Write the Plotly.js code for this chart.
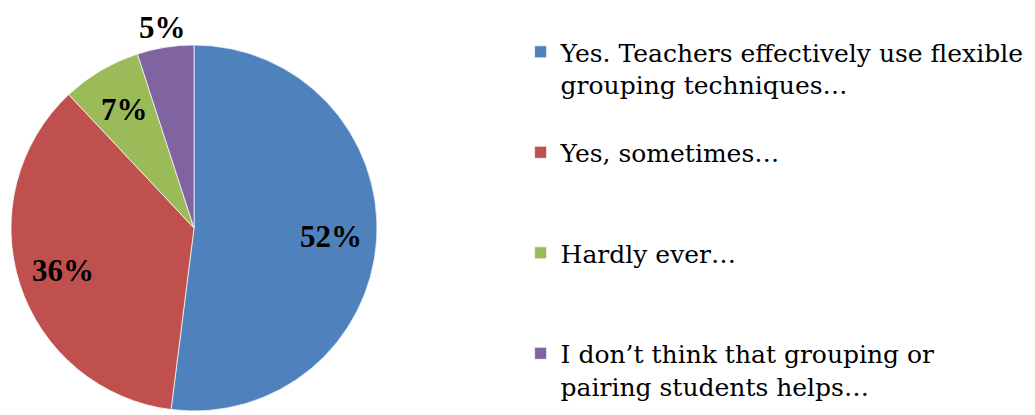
<!DOCTYPE html>
<html>
<head>
<meta charset="utf-8">
<script src="https://cdn.plot.ly/plotly-3.0.1.min.js"></script>
<style>
  html, body { margin: 0; padding: 0; background: #fff; }
  #chart { width: 1035px; height: 415px; }
</style>
</head>
<body>
<div id="chart"></div>
<script>
// ---- data ----
const categories = [
  "Yes. Teachers effectively use flexible<br>grouping techniques…",
  "Yes, sometimes…",
  "Hardly ever…",
  "I don’t think that grouping or<br>pairing students helps…"
];
const values = [52, 36, 7, 5];
const colors = ["#4F81BD", "#C0504D", "#9BBB59", "#8064A2"];
const labelOutside = [false, false, false, true];
// blank lines appended after each legend entry to spread the legend vertically
const legendPadLines = [1, 2, 2, 0];

const W = 1035, H = 415;
const cx = 194, cy = 228, R = 183;

const legendLabels = categories.map((c, i) => c + '<br> '.repeat(legendPadLines[i]));

const trace = {
  type: "pie",
  labels: legendLabels,
  values: values,
  sort: false,
  direction: "clockwise",
  rotation: 0,
  marker: { colors: colors, line: { color: "rgba(255,255,255,0.7)", width: 1 } },
  textinfo: "none",
  hoverinfo: "label+percent",
  automargin: false,
  domain: {
    x: [(cx - R) / W, (cx + R) / W],
    y: [(H - cy - R) / H, (H - cy + R) / H]
  }
};

// percentage labels placed along each slice's bisector
const total = values.reduce((a, b) => a + b, 0);
let cum = 0;
const annotations = values.map((v, i) => {
  const mid = (cum + v / 2) / total * 2 * Math.PI; // clockwise from 12 o'clock
  cum += v;
  const f = labelOutside[i] ? 1.11 : 0.75;
  const px = cx + f * R * Math.sin(mid);
  const py = cy - f * R * Math.cos(mid);
  return {
    xref: "paper", yref: "paper",
    x: px / W, y: (H - py) / H,
    xanchor: "center", yanchor: "middle",
    showarrow: false,
    text: "<b>" + Math.round(v / total * 100) + "%</b>",
    font: { family: "Liberation Serif, Times New Roman, serif", size: 31, color: "#000" }
  };
});

const layout = {
  width: W, height: H,
  margin: { l: 0, r: 0, t: 0, b: 0 },
  paper_bgcolor: "#fff",
  plot_bgcolor: "#fff",
  showlegend: true,
  annotations: annotations,
  legend: {
    x: 0.503, xanchor: "left",
    y: 0.93, yanchor: "top",
    valign: "top",
    font: { family: "DejaVu Serif", size: 25, color: "#000" },
    bgcolor: "rgba(0,0,0,0)",
    itemwidth: 30,
    traceorder: "normal"
  }
};

Plotly.newPlot("chart", [trace], layout, { displayModeBar: false, staticPlot: true });
</script>
</body>
</html>
